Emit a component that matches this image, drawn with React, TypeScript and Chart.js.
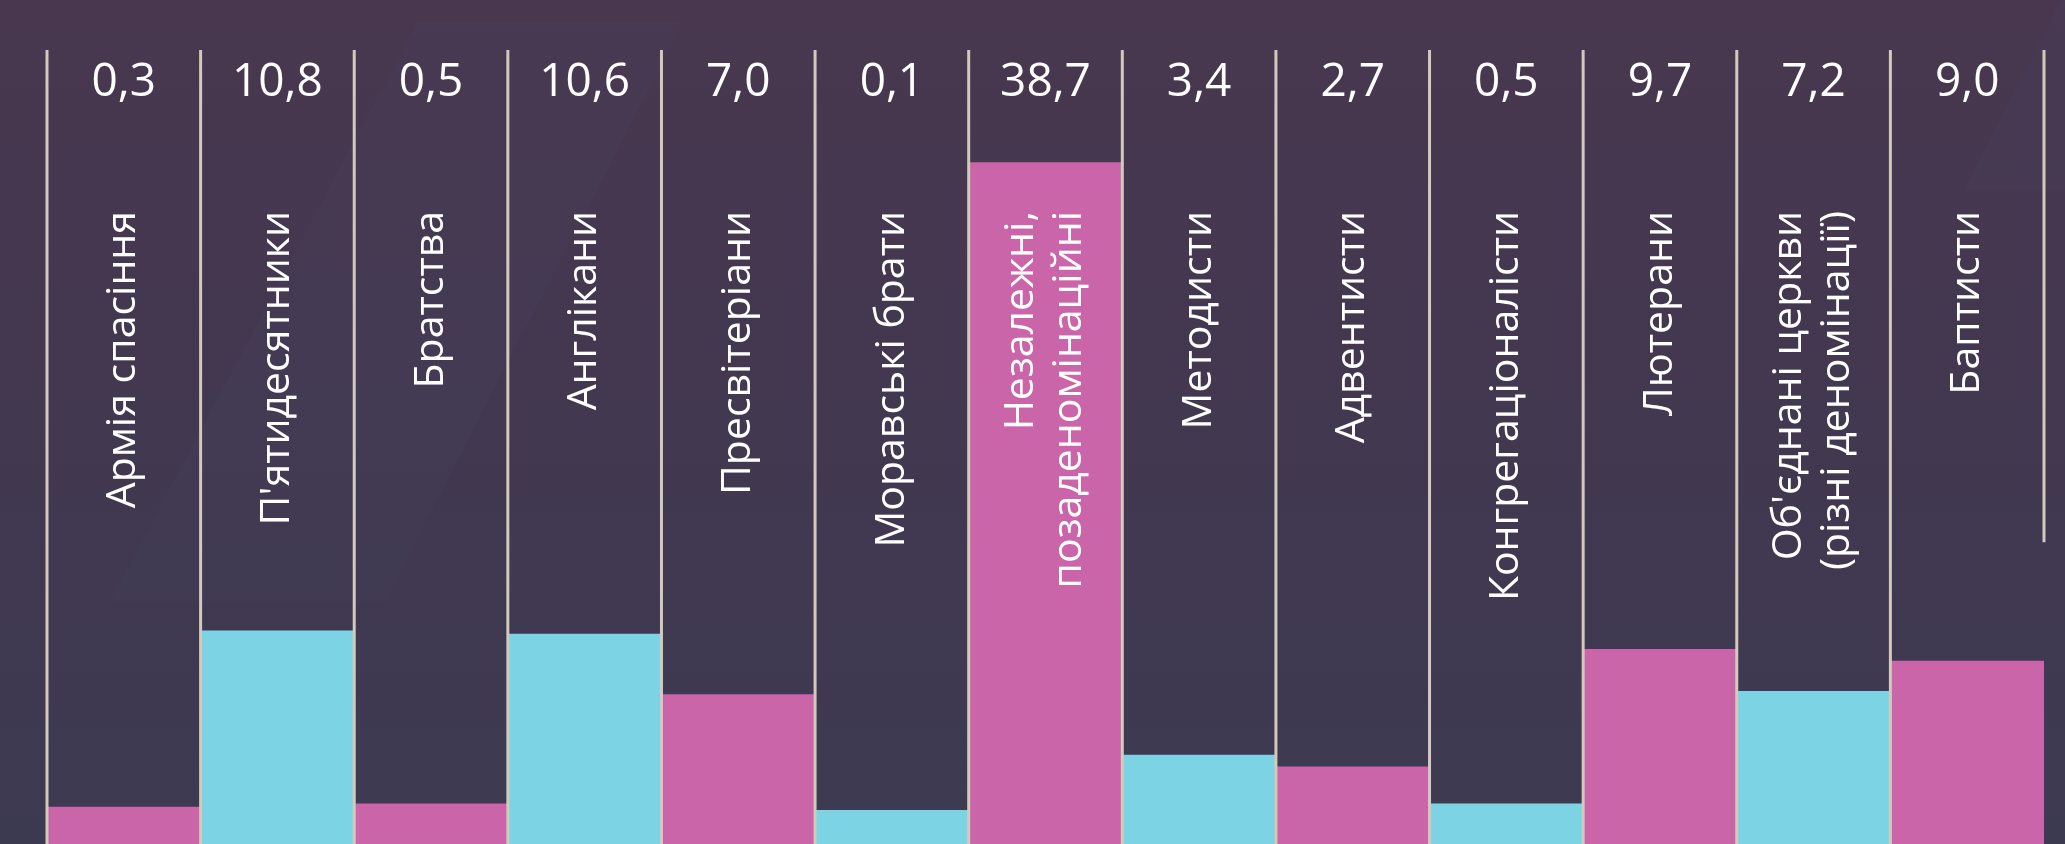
import React, { useEffect, useRef } from "react";
import { Chart, registerables } from "chart.js";

Chart.register(...registerables);

// ---- data ----
const categories: (string | string[])[] = [
  "Армія спасіння",
  "П'ятидесятники",
  "Братства",
  "Англікани",
  "Пресвітеріани",
  "Моравські брати",
  ["Незалежні,", "позаденомінаційні"],
  "Методисти",
  "Адвентисти",
  "Конгрегаціоналісти",
  "Лютерани",
  ["Об'єднані церкви", "(різні деномінації)"],
  "Баптисти",
];

const shares = [0.3, 10.8, 0.5, 10.6, 7.0, 0.1, 38.7, 3.4, 2.7, 0.5, 9.7, 7.2, 9.0];

const valueLabels = ["0,3", "10,8", "0,5", "10,6", "7,0", "0,1", "38,7", "3,4", "2,7", "0,5", "9,7", "7,2", "9,0"];

const PINK = "#C965A8";
const CYAN = "#7CD3E3";
const barColors = shares.map((_, i) => (i % 2 === 0 ? PINK : CYAN));

const Y_MIN = -1.9;
const Y_MAX = 45.4;

const FONT = '"Open Sans", "Noto Sans", sans-serif';

const decorPlugin = {
  id: "decor",
  beforeDraw(chart: any) {
    const { ctx, width, height } = chart;
    ctx.save();
    const g = ctx.createLinearGradient(0, 0, 0, height);
    g.addColorStop(0, "#48374F");
    g.addColorStop(0.5, "#423850");
    g.addColorStop(1, "#3C3A51");
    ctx.fillStyle = g;
    ctx.fillRect(0, 0, width, height);

    // faint diagonal shapes of the backdrop
    ctx.fillStyle = "rgba(110,125,170,0.035)";
    const shapes = [
      [[0.202, 0.026], [0.331, 0.026], [0.186, 0.714], [0.053, 0.714]],
      [[0.998, 0.0], [1.2, 0.0], [1.1, 0.226], [0.951, 0.226]],
    ];
    for (const s of shapes) {
      ctx.beginPath();
      s.forEach(([fx, fy], k) => {
        const px = fx * width;
        const py = fy * height;
        if (k === 0) ctx.moveTo(px, py);
        else ctx.lineTo(px, py);
      });
      ctx.closePath();
      ctx.fill();
    }
    ctx.restore();
  },
  afterDatasetsDraw(chart: any) {
    const { ctx, chartArea } = chart;
    const xs = chart.scales.x;
    const n = categories.length;
    const half = (xs.getPixelForValue(1) - xs.getPixelForValue(0)) / 2;
    const { top, bottom } = chartArea;

    ctx.save();
    // separators
    ctx.strokeStyle = "#D3CABC";
    ctx.lineWidth = 3;
    for (let i = 0; i <= n; i++) {
      const px = i < n ? xs.getPixelForValue(i) - half : xs.getPixelForValue(n - 1) + half;
      const endY = i === n ? top + (bottom - top) * 0.62 : bottom;
      ctx.beginPath();
      ctx.moveTo(px, top);
      ctx.lineTo(px, endY);
      ctx.stroke();
    }

    // value labels
    ctx.fillStyle = "#FFFFFF";
    ctx.font = `400 46px ${FONT}`;
    ctx.textAlign = "center";
    ctx.textBaseline = "middle";
    valueLabels.forEach((t, i) => {
      ctx.fillText(t, xs.getPixelForValue(i), top + 33);
    });

    // category labels, rotated
    ctx.font = `400 41px ${FONT}`;
    const lineH = 48;
    categories.forEach((lab, i) => {
      const lines = Array.isArray(lab) ? lab : [lab];
      const cx = xs.getPixelForValue(i);
      lines.forEach((ln, j) => {
        const off = (j - (lines.length - 1) / 2) * lineH;
        ctx.save();
        ctx.translate(cx + off, top + 161);
        ctx.rotate(-Math.PI / 2);
        ctx.textAlign = "right";
        ctx.textBaseline = "middle";
        ctx.fillText(ln, 0, 0);
        ctx.restore();
      });
    });
    ctx.restore();
  },
};

export default function App() {
  const ref = useRef<HTMLCanvasElement | null>(null);

  useEffect(() => {
    document.body.style.margin = "0";
    const canvas = ref.current;
    if (!canvas) return;
    const chart = new Chart(canvas, {
      type: "bar",
      data: {
        labels: categories as any,
        datasets: [
          {
            data: shares,
            backgroundColor: barColors,
            borderWidth: 0,
            base: Y_MIN,
            barPercentage: 1,
            categoryPercentage: 1,
          } as any,
        ],
      },
      options: {
        animation: false,
        responsive: false,
        devicePixelRatio: 1,
        layout: { padding: { left: 47, right: 21, top: 50, bottom: 0 } },
        plugins: {
          legend: { display: false },
          tooltip: { enabled: false },
          title: { display: false },
        },
        scales: {
          x: { display: false, offset: true, grid: { display: false } },
          y: { display: false, min: Y_MIN, max: Y_MAX },
        },
      },
      plugins: [decorPlugin],
    });
    return () => chart.destroy();
  }, []);

  return (
    <div style={{ position: "absolute", left: 0, top: 0, width: 2065, height: 844 }}>
      <canvas ref={ref} width={2065} height={844} style={{ display: "block" }} />
    </div>
  );
}
